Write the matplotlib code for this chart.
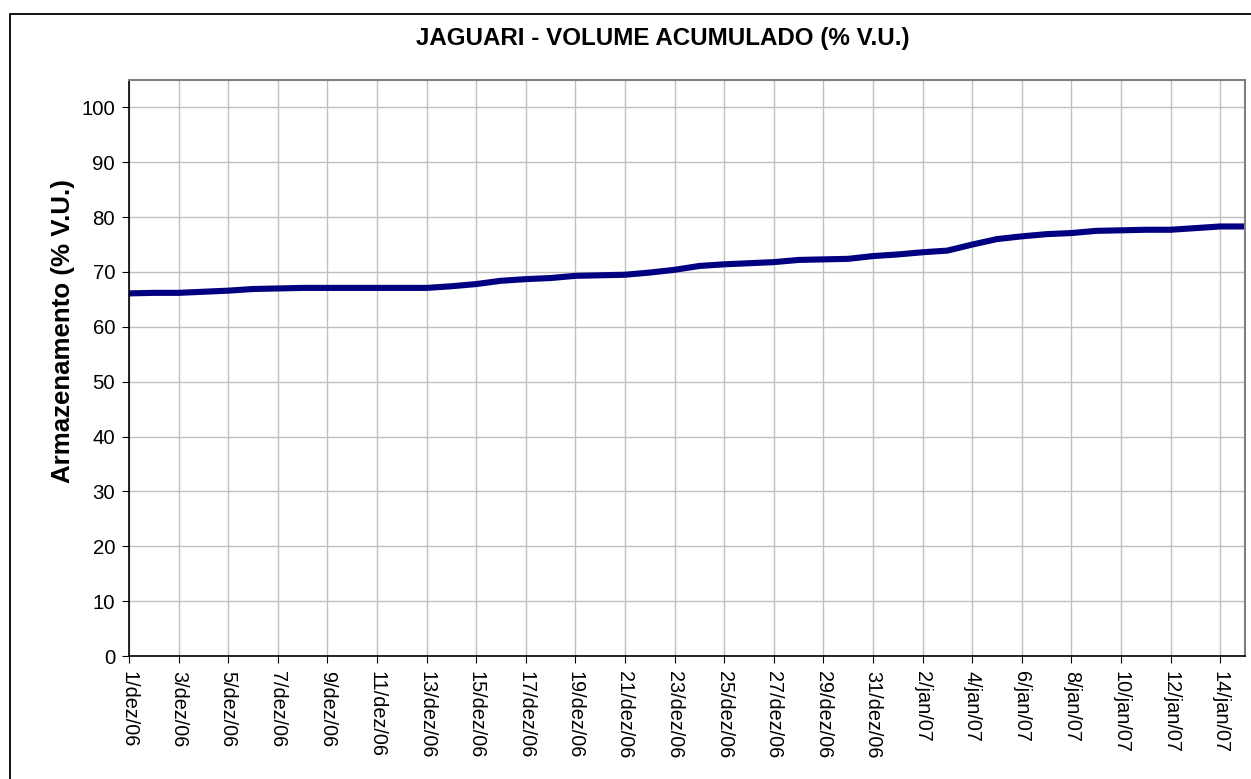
import matplotlib.pyplot as plt
from matplotlib.patches import Rectangle

plt.rcParams['font.family'] = ['Liberation Sans', 'DejaVu Sans']

# daily values, 1/dez/06 .. 15/jan/07
dias = list(range(46))
volume = [66.1, 66.2, 66.2, 66.4, 66.6, 66.9, 67.0, 67.1, 67.1, 67.1,
          67.1, 67.1, 67.1, 67.4, 67.8, 68.4, 68.7, 68.9, 69.3, 69.4,
          69.5, 69.9, 70.4, 71.1, 71.4, 71.6, 71.8, 72.2, 72.3, 72.4,
          72.9, 73.2, 73.6, 73.9, 75.0, 76.0, 76.5, 76.9, 77.1, 77.5,
          77.6, 77.7, 77.7, 78.0, 78.3, 78.3]

rotulos = ['1/dez/06', '3/dez/06', '5/dez/06', '7/dez/06', '9/dez/06',
           '11/dez/06', '13/dez/06', '15/dez/06', '17/dez/06', '19/dez/06',
           '21/dez/06', '23/dez/06', '25/dez/06', '27/dez/06', '29/dez/06',
           '31/dez/06', '2/jan/07', '4/jan/07', '6/jan/07', '8/jan/07',
           '10/jan/07', '12/jan/07', '14/jan/07']
pos_rotulos = list(range(0, 45, 2))

fig = plt.figure(figsize=(12.51, 7.79), dpi=100)
ax = fig.add_axes([129/1251, 1 - 656/779, (1245 - 129)/1251, (656 - 80)/779])

# outer chart border
fig.patches.append(Rectangle((10/1251, -0.1), 1.2, 1 - 14/779 + 0.1,
                             transform=fig.transFigure, fill=False,
                             edgecolor='black', linewidth=1.3))

ax.plot(dias, volume, color='#000080', linewidth=4.4, solid_capstyle='butt')

ax.set_xlim(0, 45)
ax.set_ylim(0, 105)
ax.set_yticks(range(0, 101, 10))
ax.set_xticks(pos_rotulos)
ax.set_xticklabels(rotulos, rotation=-90, fontsize=14.3)
ax.tick_params(axis='y', labelsize=14.7, length=5, pad=5)
ax.tick_params(axis='x', length=5, pad=6)
ax.grid(True, color='#c0c0c0', linewidth=1)
ax.set_axisbelow(True)

for s in ['top', 'right']:
    ax.spines[s].set_color('#808080')
    ax.spines[s].set_linewidth(1.5)
for s in ['left', 'bottom']:
    ax.spines[s].set_color('black')
    ax.spines[s].set_linewidth(1.2)

fig.text(663/1251, 1 - 38/779, 'JAGUARI - VOLUME ACUMULADO (% V.U.)',
         ha='center', va='center', fontsize=17.4, fontweight='bold')
fig.text(63/1251, 1 - 331/779, 'Armazenamento (% V.U.)', rotation=90,
         ha='center', va='center', fontsize=18.6, fontweight='bold')

fig.savefig('out.png', dpi=100)
